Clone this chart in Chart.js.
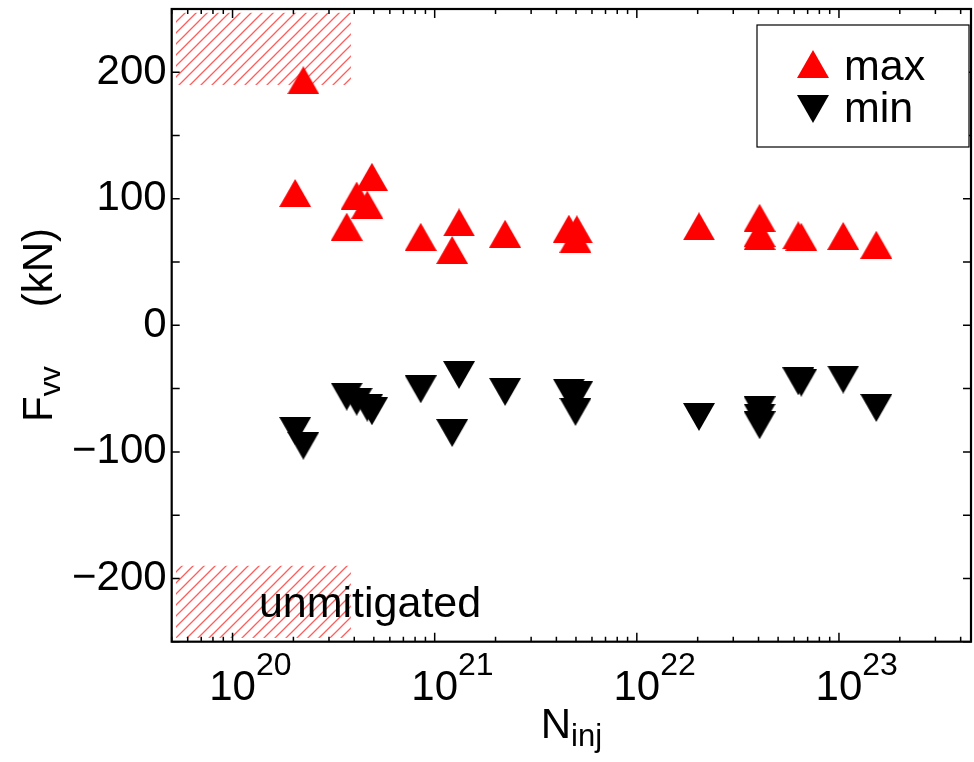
<!DOCTYPE html>
<html>
<head>
<meta charset="utf-8">
<script src="https://cdn.jsdelivr.net/npm/chart.js@4.4.1/dist/chart.umd.min.js"></script>
<style>
html, body { margin: 0; padding: 0; background: #fff; }
canvas { display: block; }
</style>
</head>
<body>
<canvas id="fvvChart" width="974" height="762"></canvas>
<script>
// valori
const nInj = [2.04e20, 2.24e20, 3.67e20, 4.11e20, 4.64e20, 4.89e20, 8.53e20, 1.22e21, 1.32e21, 2.23e21,
              4.61e21, 4.97e21, 5.05e21, 2.03e22, 4.05e22, 4.05e22, 4.05e22, 6.29e22, 6.51e22, 1.05e23, 1.53e23];
const fMax = [104.6, 193.7, 78.0, 102.6, 95.4, 117.4, 70.0, 59.5, 81.3, 72.4,
              76.4, 68.4, 75.9, 78.3, 85.0, 73.0, 70.6, 71.2, 70.0, 70.7, 63.7];
const fMin = [-83.4, -95.1, -56.3, -60.3, -65.0, -67.9, -50.5, -85.1, -39.2, -52.6,
              -53.2, -68.4, -55.3, -72.4, -67.1, -72.9, -78.9, -44.2, -45.3, -42.8, -65.3];
const seriesNames = ['max', 'min'];
const yLabelTicks = [-200, -100, 0, 100, 200];
const xDecades = [20, 21, 22, 23];

// zona "unmitigated" (tratteggiata)
const hatchX = [5.25e19, 3.85e20];
const hatchTop = [190, 247];
const hatchBottom = [-247, -190];
const noteText = 'unmitigated';
const notePos = [1.35e20, -230.5];

const FONT = '"Liberation Sans", Arial, Helvetica, sans-serif';

function makeTriangle(color, up) {
    const c = document.createElement('canvas');
    c.width = 32; c.height = 28;
    const g = c.getContext('2d');
    g.fillStyle = color;
    g.beginPath();
    if (up) { g.moveTo(16, 0); g.lineTo(32, 28); g.lineTo(0, 28); }
    else { g.moveTo(0, 0); g.lineTo(32, 0); g.lineTo(16, 28); }
    g.closePath();
    g.fill();
    return c;
}

function makeHatch() {
    const c = document.createElement('canvas');
    c.width = 11; c.height = 11;
    const g = c.getContext('2d');
    g.strokeStyle = '#ff5c5c';
    g.lineWidth = 1.3;
    g.beginPath();
    g.moveTo(0, 11); g.lineTo(11, 0);
    g.moveTo(-2, 2); g.lineTo(2, -2);
    g.moveTo(9, 13); g.lineTo(13, 9);
    g.stroke();
    return c;
}

const upTri = makeTriangle('#ff0000', true);
const downTri = makeTriangle('#000000', false);

// Disegno cornice, tacche, etichette, legenda
const decorPlugin = {
    id: 'decor',
    beforeDatasetsDraw(chart) {
        const ctx = chart.ctx;
        const xs = chart.scales.x, ys = chart.scales.y;
        const pat = ctx.createPattern(makeHatch(), 'repeat');
        ctx.save();
        ctx.fillStyle = pat;
        const x0 = xs.getPixelForValue(hatchX[0]), x1 = xs.getPixelForValue(hatchX[1]);
        [hatchTop, hatchBottom].forEach(h => {
            const y0 = ys.getPixelForValue(h[1]), y1 = ys.getPixelForValue(h[0]);
            ctx.fillRect(x0, y0, x1 - x0, y1 - y0);
        });
        ctx.fillStyle = '#000';
        ctx.font = '43px ' + FONT;
        ctx.textAlign = 'left';
        ctx.textBaseline = 'alphabetic';
        ctx.fillText(noteText, xs.getPixelForValue(notePos[0]), ys.getPixelForValue(notePos[1]));
        ctx.restore();
    },
    afterDatasetsDraw(chart) {
        const ctx = chart.ctx;
        const a = chart.chartArea;
        const xs = chart.scales.x, ys = chart.scales.y;
        ctx.save();
        ctx.strokeStyle = '#000';

        // tacche y
        ctx.lineWidth = 1.5;
        ctx.beginPath();
        for (let v = -250; v <= 250; v += 50) {
            const py = ys.getPixelForValue(v);
            ctx.moveTo(a.left, py); ctx.lineTo(a.left + 8, py);
            ctx.moveTo(a.right, py); ctx.lineTo(a.right - 8, py);
        }
        // tacche x (log)
        for (let d = 19; d <= 23; d++) {
            for (let m = 1; m <= 9; m++) {
                const v = m * Math.pow(10, d);
                if (v < xs.min || v > xs.max) continue;
                const px = xs.getPixelForValue(v);
                const len = m === 1 ? 9 : 5;
                ctx.moveTo(px, a.bottom); ctx.lineTo(px, a.bottom - len);
                ctx.moveTo(px, a.top); ctx.lineTo(px, a.top + len);
            }
        }
        ctx.stroke();

        // cornice
        ctx.lineWidth = 2.2;
        ctx.strokeRect(a.left, a.top, a.right - a.left, a.bottom - a.top);

        // etichette asse x: 10^n
        ctx.fillStyle = '#000';
        ctx.textBaseline = 'alphabetic';
        xDecades.forEach(d => {
            const px = xs.getPixelForValue(Math.pow(10, d));
            ctx.font = '42px ' + FONT;
            const w = ctx.measureText('10').width;
            ctx.textAlign = 'left';
            ctx.fillText('10', px - w / 2, 700);
            ctx.font = '32px ' + FONT;
            ctx.fillText(String(d), px + w / 2, 675);
        });

        // titolo asse x: N_inj
        ctx.font = '42px ' + FONT;
        const wN = ctx.measureText('N').width;
        ctx.font = '31px ' + FONT;
        const wSub = ctx.measureText('inj').width;
        const cx = (a.left + a.right) / 2;
        const sx = cx - (wN + wSub) / 2;
        ctx.font = '42px ' + FONT;
        ctx.fillText('N', sx, 738);
        ctx.font = '31px ' + FONT;
        ctx.fillText('inj', sx + wN, 746);

        // titolo asse y: F_vv (kN), centrato sull'asse
        ctx.save();
        ctx.translate(52, 422);
        ctx.rotate(-Math.PI / 2);
        ctx.textAlign = 'left';
        ctx.font = '42px ' + FONT;
        ctx.fillText('F', 0, 0);
        const off = ctx.measureText('F').width;
        ctx.font = '30px ' + FONT;
        ctx.fillText('vv', off, 8);
        ctx.font = '42px ' + FONT;
        ctx.textAlign = 'right';
        ctx.fillText('(kN)', 194, 0);
        ctx.restore();

        // legenda
        const bw = 212, bh = 122;
        const bx = a.right - 2 - bw, by = a.top + 16;
        ctx.fillStyle = '#fff';
        ctx.fillRect(bx, by, bw, bh);
        ctx.lineWidth = 1.2;
        ctx.strokeStyle = '#000';
        ctx.strokeRect(bx, by, bw, bh);
        const imgs = [upTri, downTri];
        const rows = [by + 39, by + 84];
        ctx.fillStyle = '#000';
        ctx.font = '43px ' + FONT;
        ctx.textAlign = 'left';
        ctx.textBaseline = 'alphabetic';
        seriesNames.forEach((name, i) => {
            ctx.drawImage(imgs[i], bx + 56 - 16, rows[i] - 14);
            ctx.fillText(name, bx + 87, rows[i] + (i === 0 ? 16 : 13));
        });
        ctx.restore();
    }
};

new Chart(document.getElementById('fvvChart'), {
    type: 'scatter',
    data: {
        datasets: [{
            label: seriesNames[0],
            data: nInj.map((x, i) => ({ x: x, y: fMax[i] })),
            pointStyle: upTri,
            pointRadius: 16,
            backgroundColor: '#ff0000'
        }, {
            label: seriesNames[1],
            data: nInj.map((x, i) => ({ x: x, y: fMin[i] })),
            pointStyle: downTri,
            pointRadius: 16,
            backgroundColor: '#000000'
        }]
    },
    options: {
        responsive: false,
        animation: false,
        devicePixelRatio: 1,
        layout: { autoPadding: false, padding: { top: 9, right: 3, left: 0, bottom: 0 } },
        plugins: { legend: { display: false }, tooltip: { enabled: false } },
        scales: {
            x: {
                type: 'logarithmic',
                min: 5e19,
                max: 4.5e23,
                grid: { display: false },
                border: { display: false },
                ticks: { display: false },
                afterFit: s => { s.height = 120.3; s.paddingLeft = 0; s.paddingRight = 0; }
            },
            y: {
                min: -250,
                max: 250,
                grid: { display: false, drawTicks: false },
                border: { display: false },
                afterBuildTicks: s => { s.ticks = yLabelTicks.map(v => ({ value: v })); },
                ticks: {
                    color: '#000',
                    padding: 5,
                    font: { family: FONT, size: 42 },
                    callback: v => String(v).replace('-', '\u2212')
                },
                afterFit: s => { s.width = 171.7; s.paddingTop = 0; s.paddingBottom = 0; }
            }
        }
    },
    plugins: [decorPlugin]
});
</script>
</body>
</html>
